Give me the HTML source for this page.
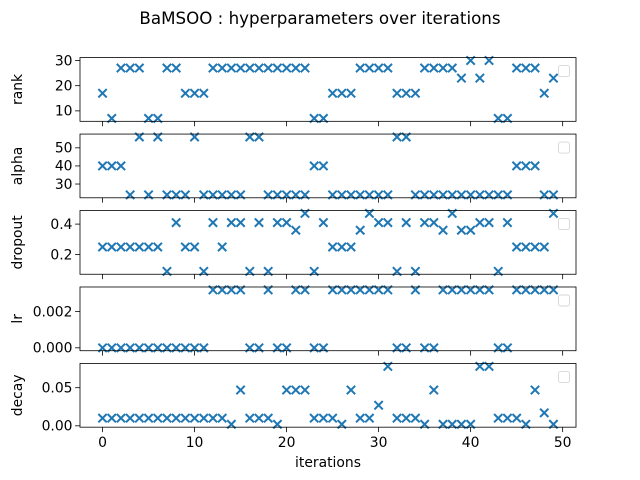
<!DOCTYPE html>
<html><head><meta charset="utf-8"><style>
body{margin:0;background:#fff}
svg{display:block;font-family:"DejaVu Sans","Liberation Sans",sans-serif}
</style></head><body>
<svg id="fig" width="640" height="480" viewBox="0 0 640 480">
<text x="320" y="24" text-anchor="middle" font-size="16.7" fill="#000">BaMSOO : hyperparameters over iterations</text>
</svg>
<script>
const iterations = Array.from({length:50},(_, i)=>i);
const rankValues = [17,7,27,27,27,7,7,27,27,17,17,17,27,27,27,27,27,27,27,27,27,27,27,7,7,17,17,17,27,27,27,27,17,17,17,27,27,27,27,23,30,23,30,7,7,27,27,27,17,23];
const alphaValues = [40,40,40,24,56,24,56,24,24,24,56,24,24,24,24,24,56,56,24,24,24,24,24,40,40,24,24,24,24,24,24,24,56,56,24,24,24,24,24,24,24,24,24,24,24,40,40,40,24,24];
const dropoutValues = [0.25,0.25,0.25,0.25,0.25,0.25,0.25,0.09,0.41,0.25,0.25,0.09,0.41,0.25,0.41,0.41,0.09,0.41,0.09,0.41,0.41,0.36,0.47,0.09,0.41,0.25,0.25,0.25,0.36,0.47,0.41,0.41,0.09,0.41,0.09,0.41,0.41,0.36,0.47,0.36,0.36,0.41,0.41,0.09,0.41,0.25,0.25,0.25,0.25,0.47];
const H=0.0032, L=0;
const lrValues = [L,L,L,L,L,L,L,L,L,L,L,L,H,H,H,H,L,L,H,L,L,H,H,L,L,H,H,H,H,H,H,H,L,L,H,L,L,H,H,H,H,H,H,L,L,H,H,H,H,H];
const decayValues = [0.01,0.01,0.01,0.01,0.01,0.01,0.01,0.01,0.01,0.01,0.01,0.01,0.01,0.01,0.002,0.047,0.01,0.01,0.01,0.002,0.047,0.047,0.047,0.01,0.01,0.01,0.002,0.047,0.01,0.01,0.027,0.078,0.01,0.01,0.01,0.002,0.047,0.002,0.002,0.002,0.002,0.078,0.078,0.01,0.01,0.01,0.002,0.047,0.017,0.002];
const xTicks = [0,10,20,30,40,50];
const rankTicks = [10,20,30], rankTickLabels = ["10","20","30"];
const alphaTicks = [30,40,50], alphaTickLabels = ["30","40","50"];
const dropoutTicks = [0.2,0.4], dropoutTickLabels = ["0.2","0.4"];
const lrTicks = [0,0.002], lrTickLabels = ["0.000","0.002"];
const decayTicks = [0,0.05], decayTickLabels = ["0.00","0.05"];

const NS="http://www.w3.org/2000/svg";
const svg=document.getElementById('fig');
function mk(tag,attrs,parent){const e=document.createElementNS(NS,tag);for(const k in attrs)e.setAttribute(k,attrs[k]);(parent||svg).appendChild(e);return e;}
const X0=80,X1=576;
const xmin=-2.45,xmax=51.45;
const xs=v=>X0+(v-xmin)/(xmax-xmin)*(X1-X0);
const top0=57.6,h=63.72,gap=12.744;
const panels=[
 {name:'rank',vals:rankValues,ticks:rankTicks,labels:rankTickLabels},
 {name:'alpha',vals:alphaValues,ticks:alphaTicks,labels:alphaTickLabels},
 {name:'dropout',vals:dropoutValues,ticks:dropoutTicks,labels:dropoutTickLabels},
 {name:'lr',vals:lrValues,ticks:lrTicks,labels:lrTickLabels},
 {name:'decay',vals:decayValues,ticks:decayTicks,labels:decayTickLabels}];
panels.forEach((p,pi)=>{
  const yt=top0+pi*(h+gap), yb=yt+h;
  const mn=Math.min(...p.vals), mx=Math.max(...p.vals), m=(mx-mn)*0.05;
  const ys=v=>yb-(v-(mn-m))/((mx+m)-(mn-m))*h;
  const g=mk('g',{});
  
  
  p.vals.forEach((v,i)=>{
    const cx=xs(iterations[i]), cy=ys(v), r=4.17;
    const mk2=mk('path',{d:`M${cx-r},${cy-r}L${cx+r},${cy+r}M${cx-r},${cy+r}L${cx+r},${cy-r}`,stroke:'#1f77b4','stroke-width':2,fill:'none'},g);
    
    
  });
  p.ticks.forEach((t,k)=>{
    const y=ys(t);
    mk('line',{x1:X0-4.9,x2:X0,y1:y,y2:y,stroke:'#000','stroke-width':0.8},g);
    const tx=mk('text',{x:X0-7.5,y:y+4.8,'text-anchor':'end','font-size':13.9,fill:'#000'},g);
    tx.textContent=p.labels[k];
    
    
  });
  xTicks.forEach(t=>{
    const x=xs(t);
    mk('line',{x1:x,x2:x,y1:yb,y2:yb+4.9,stroke:'#000','stroke-width':0.8},g);
    if(pi===4){
      const tx=mk('text',{x:x,y:yb+20,'text-anchor':'middle','font-size':13.9,fill:'#000'},g);
      tx.textContent=String(t);
      
      
    }
  });
  const fr=mk('rect',{x:X0,y:yt,width:X1-X0,height:h,fill:'none',stroke:'#000','stroke-width':0.8},g);
  
  
  const lg=mk('rect',{x:X1-17.5,y:yt+8,width:11,height:11,rx:2,fill:'#fff',stroke:'#d6d6d6','stroke-width':0.9},g);
  
  
  const cy=yt+h/2;
  const yl=mk('text',{x:22,y:cy,'text-anchor':'middle','font-size':13.9,fill:'#000',transform:`rotate(-90 22 ${cy})`},g);
  yl.textContent=p.name;
  
  
});
const xl=mk('text',{x:(X0+X1)/2,y:467,'text-anchor':'middle','font-size':13.9,fill:'#000'});
xl.textContent='iterations';


</script>
</body></html>
